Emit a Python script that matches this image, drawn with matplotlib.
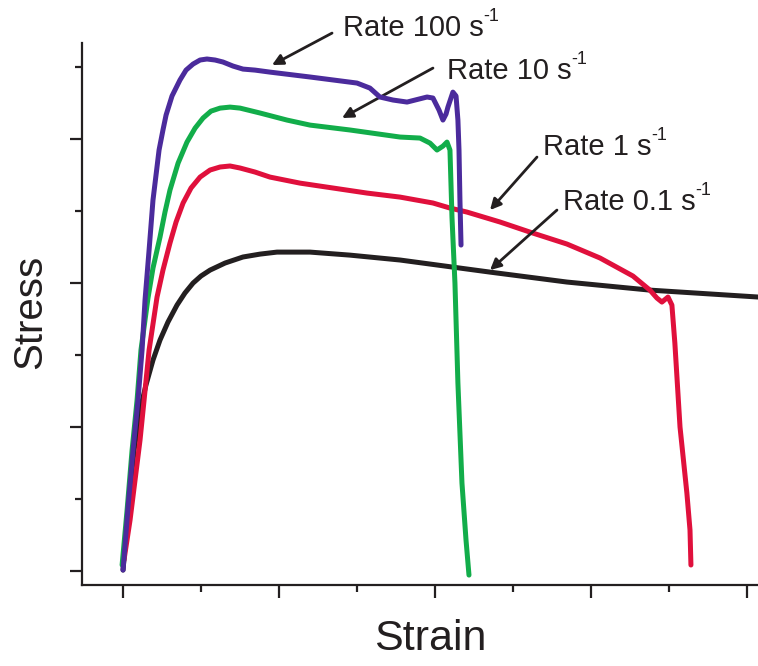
import numpy as np
import matplotlib
matplotlib.use("Agg")
import matplotlib.pyplot as plt
from matplotlib.ticker import MultipleLocator, NullFormatter

plt.rcParams['font.family'] = ['Liberation Sans', 'DejaVu Sans']

###DATA (arbitrary units)###
strain_100 = [0, 0.032, 0.064, 0.096, 0.122, 0.141, 0.167, 0.192, 0.231, 0.256, 0.276, 0.314,
              0.365, 0.404, 0.449, 0.494, 0.538, 0.590, 0.641, 0.705, 0.769, 0.846, 0.942,
              1.199, 1.500, 1.583, 1.647, 1.731, 1.821, 1.949, 1.987, 2.026, 2.051, 2.071,
              2.083, 2.115, 2.135, 2.147, 2.154, 2.160, 2.167]
stress_100 = [0.007, 0.444, 0.840, 1.188, 1.535, 1.882, 2.229, 2.576, 2.924, 3.063, 3.167, 3.299,
              3.410, 3.479, 3.521, 3.549, 3.556, 3.549, 3.535, 3.507, 3.486, 3.479, 3.465,
              3.431, 3.389, 3.354, 3.292, 3.271, 3.257, 3.292, 3.285, 3.201, 3.132, 3.174,
              3.222, 3.326, 3.299, 3.132, 2.924, 2.576, 2.264]

strain_10 = [-0.006, 0.026, 0.058, 0.090, 0.115, 0.160, 0.192, 0.237, 0.269, 0.301, 0.353, 0.410,
             0.462, 0.513, 0.564, 0.622, 0.686, 0.750, 0.878, 1.051, 1.199, 1.455, 1.776,
             1.904, 1.968, 2.013, 2.051, 2.077, 2.096, 2.109, 2.128, 2.147, 2.173, 2.199, 2.218]
stress_10 = [0.042, 0.424, 0.840, 1.188, 1.535, 1.896, 2.104, 2.319, 2.493, 2.646, 2.833, 2.979,
             3.076, 3.146, 3.194, 3.215, 3.222, 3.215, 3.181, 3.132, 3.097, 3.063, 3.014,
             3.007, 2.972, 2.924, 2.951, 2.979, 2.924, 2.458, 2.000, 1.306, 0.611, 0.215, -0.028]

strain_1 = [0.006, 0.045, 0.077, 0.109, 0.135, 0.167, 0.218, 0.256, 0.301, 0.340, 0.385, 0.436,
            0.494, 0.558, 0.622, 0.686, 0.750, 0.846, 0.942, 1.135, 1.564, 1.776, 1.987,
            2.096, 2.205, 2.417, 2.628, 2.846, 3.058, 3.269, 3.378, 3.423, 3.455, 3.494,
            3.519, 3.538, 3.571, 3.615, 3.635, 3.641]
stress_1 = [0.076, 0.354, 0.632, 0.910, 1.188, 1.535, 1.903, 2.090, 2.278, 2.424, 2.556, 2.660,
            2.736, 2.785, 2.806, 2.813, 2.799, 2.771, 2.736, 2.694, 2.625, 2.597, 2.556,
            2.521, 2.493, 2.424, 2.347, 2.271, 2.174, 2.049, 1.951, 1.896, 1.868, 1.903,
            1.847, 1.583, 1.000, 0.542, 0.285, 0.042]

strain_01 = [0, 0.032, 0.071, 0.109, 0.147, 0.192, 0.237, 0.288, 0.346, 0.397, 0.449, 0.500,
             0.558, 0.654, 0.769, 0.878, 0.987, 1.199, 1.455, 1.776, 2.353, 2.846, 3.378, 4.071]
stress_01 = [0.007, 0.424, 0.840, 1.118, 1.292, 1.465, 1.604, 1.729, 1.847, 1.931, 2.000, 2.049,
             2.090, 2.139, 2.181, 2.201, 2.215, 2.215, 2.194, 2.160, 2.076, 2.007, 1.951, 1.903]

labels = ['Rate 100 s', 'Rate 10 s', 'Rate 1 s', 'Rate 0.1 s']

###PLOT###
fig = plt.figure(figsize=(7.58, 6.66), dpi=100)
ax = fig.add_axes([0.1082, 0.1216, 0.8918, 0.8138])

ink = '#231f20'
kw = dict(lw=3.6, solid_capstyle='round', solid_joinstyle='round')
ax.plot(strain_01, stress_01, color=ink, zorder=2, **kw)
ax.plot(strain_1, stress_1, color='#e0103c', zorder=3, **kw)
ax.plot(strain_10, stress_10, color='#12ad4a', zorder=4, **kw)
ax.plot(strain_100, stress_100, color='#4b2b9c', zorder=5, **kw)

ax.set_xlim(-0.263, 4.071)
ax.set_ylim(-0.097, 3.667)

###ANNOTATIONS: (text pos, arrow tail, arrow head)###
notes = [((1.410, 3.715), (1.340, 3.736), (0.955, 3.514)),
         ((2.077, 3.417), (1.987, 3.493), (1.404, 3.146)),
         ((2.692, 2.889), (2.654, 2.875), (2.353, 2.507)),
         ((2.821, 2.507), (2.782, 2.507), (2.353, 2.090))]
for lab, (tpos, tail, head) in zip(labels, notes):
    t = ax.text(tpos[0], tpos[1], lab, fontsize=21, color=ink, ha='left', va='baseline',
                clip_on=False)
    ax.annotate('-1', xy=(1.0, 0.62), xycoords=t, fontsize=13, color=ink,
                ha='left', va='bottom', annotation_clip=False)
    ax.annotate('', xy=head, xytext=tail, annotation_clip=False,
                arrowprops=dict(arrowstyle='-|>', lw=2, color=ink, mutation_scale=16,
                                shrinkA=0, shrinkB=0))

for s in ['top', 'right']:
    ax.spines[s].set_visible(False)
for s in ['left', 'bottom']:
    ax.spines[s].set_linewidth(1.6)
    ax.spines[s].set_color(ink)

ax.xaxis.set_major_locator(MultipleLocator(1))
ax.xaxis.set_minor_locator(MultipleLocator(0.5))
ax.yaxis.set_major_locator(MultipleLocator(1))
ax.yaxis.set_minor_locator(MultipleLocator(0.5))
ax.xaxis.set_major_formatter(NullFormatter())
ax.yaxis.set_major_formatter(NullFormatter())
ax.tick_params(which='major', direction='out', length=9, width=1.6, color=ink)
ax.tick_params(which='minor', direction='out', length=5, width=1.6, color=ink)

fig.text(0.040, 0.531, 'Stress', rotation=90, fontsize=29, color=ink, ha='center', va='center')
fig.text(0.567, 0.040, 'Strain', fontsize=31, color=ink, ha='center', va='center')

fig.savefig('out.png', dpi=100)
